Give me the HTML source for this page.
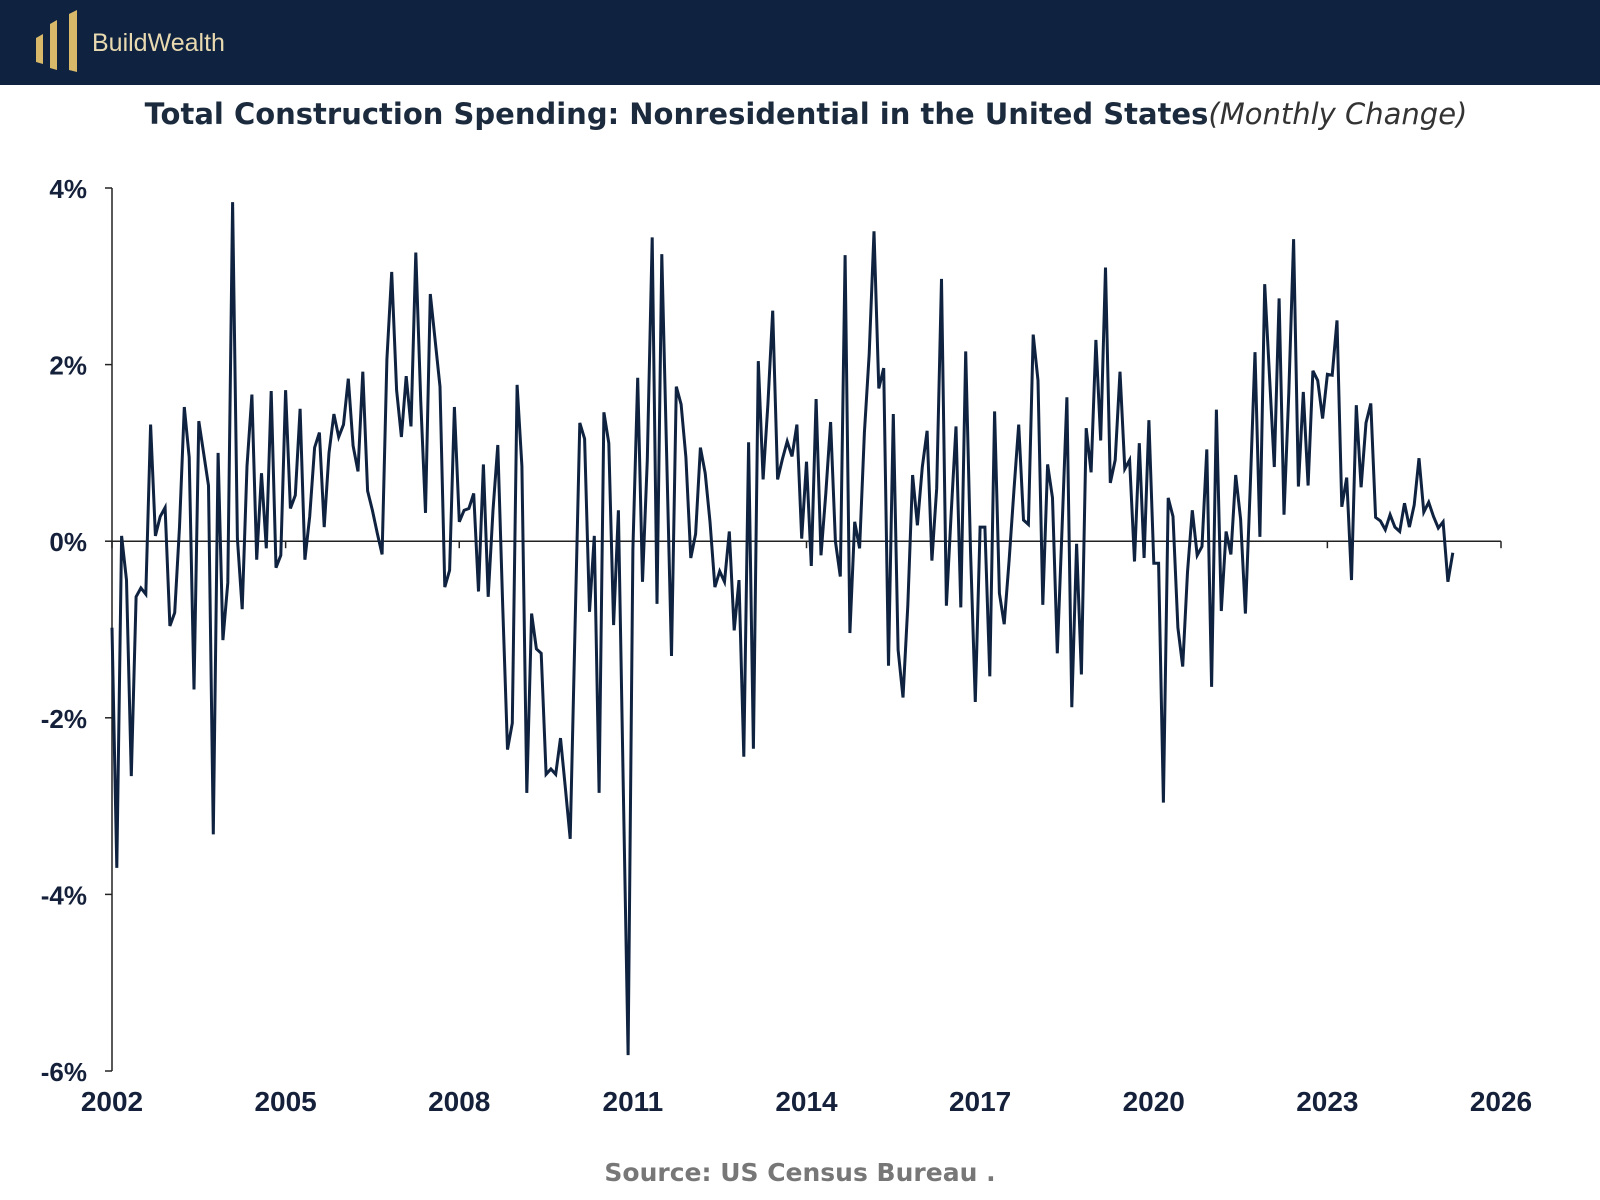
<!DOCTYPE html>
<html><head><meta charset="utf-8"><style>
body{margin:0;width:1600px;height:1200px;background:#fff;overflow:hidden;font-family:"Liberation Sans",sans-serif}
#hdr{position:absolute;left:0;top:0;width:1600px;height:85px;background:#0f2340}
</style></head><body>
<div id="hdr">
<svg width="300" height="85">
<polygon points="36,38 43,34 43,64 36,62" fill="#d8b96a"/>
<polygon points="50,24 57,20 57,70 50,68" fill="#d8b96a"/>
<polygon points="69,14 77,10 77,72 69,70" fill="#d8b96a"/>
<text x="92" y="51" font-family="Liberation Sans" font-size="25" fill="#e8d9b0">BuildWealth</text>
</svg></div>
<svg id="chart" width="1600" height="1200" style="position:absolute;left:0;top:0">
<text x="806" y="124" text-anchor="middle" font-size="29" font-family="DejaVu Sans, Liberation Sans, sans-serif"><tspan font-weight="bold" fill="#1b2a3c">Total Construction Spending: Nonresidential in the United States</tspan><tspan font-style="italic" fill="#333" font-size="29">(Monthly Change)</tspan></text>
<text x="800" y="1181" text-anchor="middle" font-size="25" font-weight="bold" fill="#777" font-family="DejaVu Sans, Liberation Sans, sans-serif">Source:  US Census Bureau .</text>
</svg>
<script>
const yTicks=[4,2,0,-2,-4,-6];
const yTickLabels=["4%","2%","0%","-2%","-4%","-6%"];
const xTicks=[2002,2005,2008,2011,2014,2017,2020,2023,2026];
const startYear=2002;
const values=[-0.98,-3.70,0.06,-0.44,-2.66,-0.63,-0.53,-0.60,1.32,0.06,0.28,0.38,-0.96,-0.81,0.16,1.52,0.95,-1.68,1.36,1.0,0.63,-3.32,1.0,-1.12,-0.47,3.84,0.03,-0.77,0.85,1.66,-0.21,0.77,-0.08,1.70,-0.30,-0.16,1.71,0.37,0.52,1.50,-0.21,0.28,1.06,1.23,0.16,1.0,1.44,1.18,
1.32,1.84,1.08,0.79,1.92,0.57,0.35,0.09,-0.15,2.06,3.05,1.71,1.18,1.87,1.30,3.27,1.6,0.32,2.80,2.28,1.75,-0.52,-0.33,1.52,0.22,0.35,0.37,0.54,-0.57,0.87,-0.63,0.35,1.09,-0.73,-2.36,-2.06,1.77,0.85,-2.85,-0.82,-1.22,-1.27,-2.64,-2.58,-2.64,-2.23,
-2.8,-3.37,-1.0,1.34,1.16,-0.80,0.06,-2.85,1.46,1.11,-0.95,0.35,-2.74,-5.82,-0.09,1.85,-0.46,0.92,3.44,-0.71,3.25,1.0,-1.30,1.75,1.55,0.95,-0.19,0.08,1.06,0.77,0.22,-0.52,-0.34,-0.46,0.11,-1.01,-0.44,-2.44,1.12,-2.35,2.04,0.70,1.55,2.61,0.70,0.93,1.13,0.96,1.32,
0.03,0.90,-0.28,1.61,-0.16,0.54,1.35,0.0,-0.40,3.24,-1.04,0.22,-0.08,1.23,2.12,3.51,1.73,1.96,-1.41,1.44,-1.23,-1.77,-0.73,0.75,0.18,0.84,1.25,-0.22,0.60,2.97,-0.73,0.32,1.30,-0.75,2.15,-0.1,-1.82,0.16,0.16,-1.53,1.47,-0.59,-0.94,-0.22,0.57,1.32,0.24,0.19,
2.34,1.82,-0.72,0.87,0.49,-1.27,0.16,1.63,-1.88,-0.03,-1.51,1.28,0.78,2.28,1.14,3.10,0.66,0.92,1.92,0.82,0.92,-0.23,1.11,-0.19,1.37,-0.25,-0.25,-2.96,0.49,0.28,-0.98,-1.42,-0.35,0.35,-0.16,-0.06,1.04,-1.65,1.49,-0.79,0.11,-0.15,0.75,0.25,-0.82,0.6,2.14,
0.05,2.91,1.87,0.84,2.75,0.30,1.68,3.42,0.62,1.69,0.63,1.93,1.82,1.39,1.89,1.88,2.5,0.39,0.72,-0.44,1.54,0.61,1.34,1.56,0.27,0.23,0.13,0.30,0.16,0.11,0.43,0.16,0.41,0.94,0.33,0.44,0.28,0.15,0.22,-0.46,-0.13];
const NS="http://www.w3.org/2000/svg";
const svg=document.getElementById('chart');
const X0=112,X1=1501,Y4=188,Yn6=1071;
function xs(yr){return X0+(yr-2002)/(2026-2002)*(X1-X0);}
function ys(v){return Y4+(4-v)/10*(Yn6-Y4);}
function mk(t,a){const e=document.createElementNS(NS,t);for(const k in a)e.setAttribute(k,a[k]);svg.appendChild(e);return e;}
const ax=mk('line',{x1:X0,x2:X0,y1:Y4,y2:Yn6,stroke:'#222','stroke-width':1.5});


const zl=mk('line',{x1:X0,x2:X1,y1:ys(0),y2:ys(0),stroke:'#222','stroke-width':1.5});


yTicks.forEach((v,i)=>{
 const t=mk('line',{x1:X0-7,x2:X0,y1:ys(v),y2:ys(v),stroke:'#222','stroke-width':1.5});
 
 
 const l=mk('text',{x:X0-25,y:ys(v)+10,'text-anchor':'end','font-size':26,'font-weight':'bold',fill:'#15213a'});
 l.textContent=yTickLabels[i];
 
 
});
xTicks.forEach(yr=>{
 const t=mk('line',{x1:xs(yr),x2:xs(yr),y1:ys(0),y2:ys(0)+7,stroke:'#222','stroke-width':1.5});
 
 
 const l=mk('text',{x:xs(yr),y:1111,'text-anchor':'middle','font-size':28,'font-weight':'bold',fill:'#15213a'});
 l.textContent=yr;
 
 
});
const pts=values.map((v,i)=>xs(startYear+i/12).toFixed(1)+','+ys(v).toFixed(1)).join(' ');
const pl=mk('polyline',{points:pts,fill:'none',stroke:'#0f2340','stroke-width':3,'stroke-linejoin':'miter'});


</script>
</body></html>
